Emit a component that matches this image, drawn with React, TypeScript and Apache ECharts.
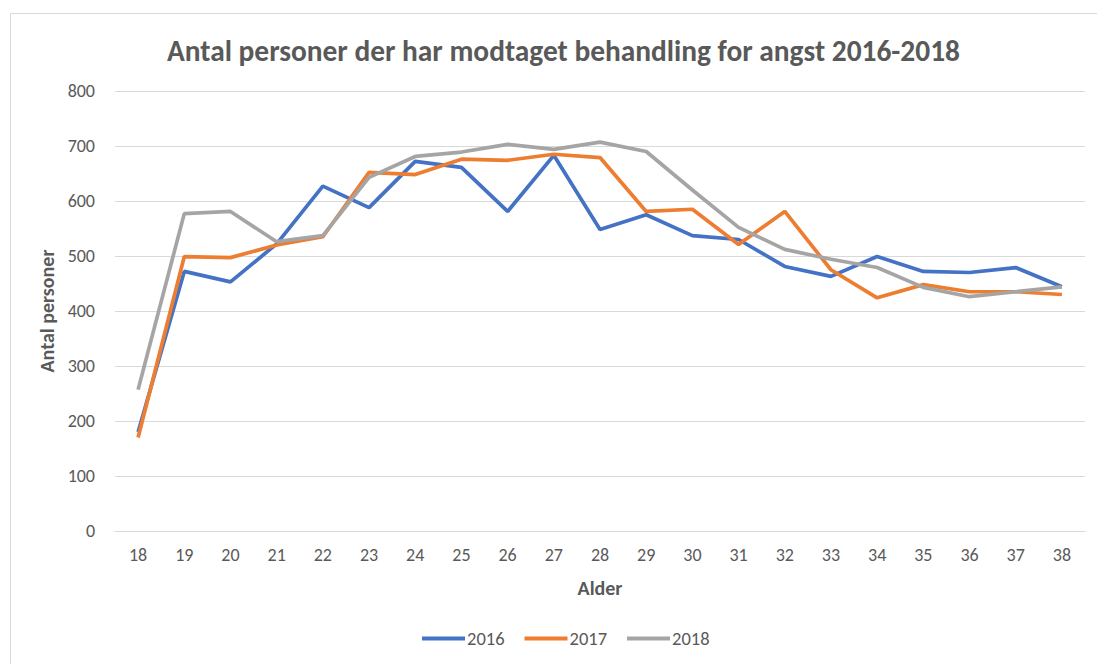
import React, { useEffect, useRef } from "react";
import * as echarts from "echarts";

const ages = ["18","19","20","21","22","23","24","25","26","27","28","29","30","31","32","33","34","35","36","37","38"];
const s2016 = [180, 472, 453, 522, 627, 588, 672, 661, 581, 683, 548, 575, 537, 530, 481, 463, 499, 472, 470, 479, 444];
const s2017 = [170, 499, 497, 520, 535, 652, 648, 676, 674, 685, 679, 581, 585, 521, 581, 475, 424, 448, 435, 435, 430];
const s2018 = [257, 577, 581, 526, 537, 643, 681, 689, 703, 694, 707, 690, 620, 552, 512, 494, 479, 443, 426, 435, 444];
const yTicks = { min: 0, max: 800, interval: 100 };

const FONT = "Carlito, 'Liberation Sans Narrow', 'Open Sans', sans-serif";

export default function App() {
  const ref = useRef<HTMLDivElement>(null);
  useEffect(() => {
    if (!ref.current) return;
    const chart = echarts.init(ref.current, undefined, { renderer: "svg" });
    const mk = (name: string, data: number[], color: string) => ({
      name,
      type: "line",
      data,
      symbol: "none",
      lineStyle: { width: 3.7, color },
      itemStyle: { color },
    });
    chart.setOption({
      animation: false,
      backgroundColor: "#ffffff",
      textStyle: { fontFamily: FONT },
      title: {
        text: "Antal personer der har modtaget behandling for angst 2016-2018",
        left: 162,
        top: 31,
        textStyle: { fontFamily: FONT, fontSize: 29.4, fontWeight: "bold", color: "#595959" },
      },
      graphic: [
        {
          type: "rect",
          shape: { x: 10.5, y: 13.5, width: 1120, height: 700 },
          style: { fill: "none", stroke: "#D9D9D9", lineWidth: 1 },
          silent: true,
        },
      ],
      legend: {
        bottom: 11,
        left: 417,
        itemWidth: 43,
        itemHeight: 4,
        itemGap: 20,
        icon: "rect",
        textStyle: { fontFamily: FONT, fontSize: 18.5, color: "#595959", padding: [0, 0, 0, -3] },
        data: ["2016", "2017", "2018"],
      },
      grid: { left: 115, right: 12, top: 91, bottom: 133, containLabel: false },
      xAxis: {
        type: "category",
        data: ages,
        boundaryGap: true,
        name: "Alder",
        nameLocation: "middle",
        nameGap: 47,
        nameTextStyle: { fontFamily: FONT, fontSize: 20, fontWeight: "bold", color: "#595959" },
        axisLine: { show: true, lineStyle: { color: "#D9D9D9", width: 1 } },
        axisTick: { show: false },
        axisLabel: { fontFamily: FONT, fontSize: 18, color: "#595959", margin: 15 },
      },
      yAxis: {
        type: "value",
        min: yTicks.min,
        max: yTicks.max,
        interval: yTicks.interval,
        name: "Antal personer",
        nameLocation: "middle",
        nameGap: 55,
        nameTextStyle: { fontFamily: FONT, fontSize: 20, fontWeight: "bold", color: "#595959" },
        axisLine: { show: false },
        axisTick: { show: false },
        axisLabel: { fontFamily: FONT, fontSize: 18, color: "#595959", margin: 20 },
        splitLine: { lineStyle: { color: "#D9D9D9", width: 1 } },
      },
      series: [
        mk("2016", s2016, "#4472C4"),
        mk("2017", s2017, "#ED7D31"),
        mk("2018", s2018, "#A5A5A5"),
      ],
    });
    return () => chart.dispose();
  }, []);
  return (
    <div
      ref={ref}
      style={{ position: "absolute", left: 0, top: 0, width: 1097, height: 664 }}
    />
  );
}
